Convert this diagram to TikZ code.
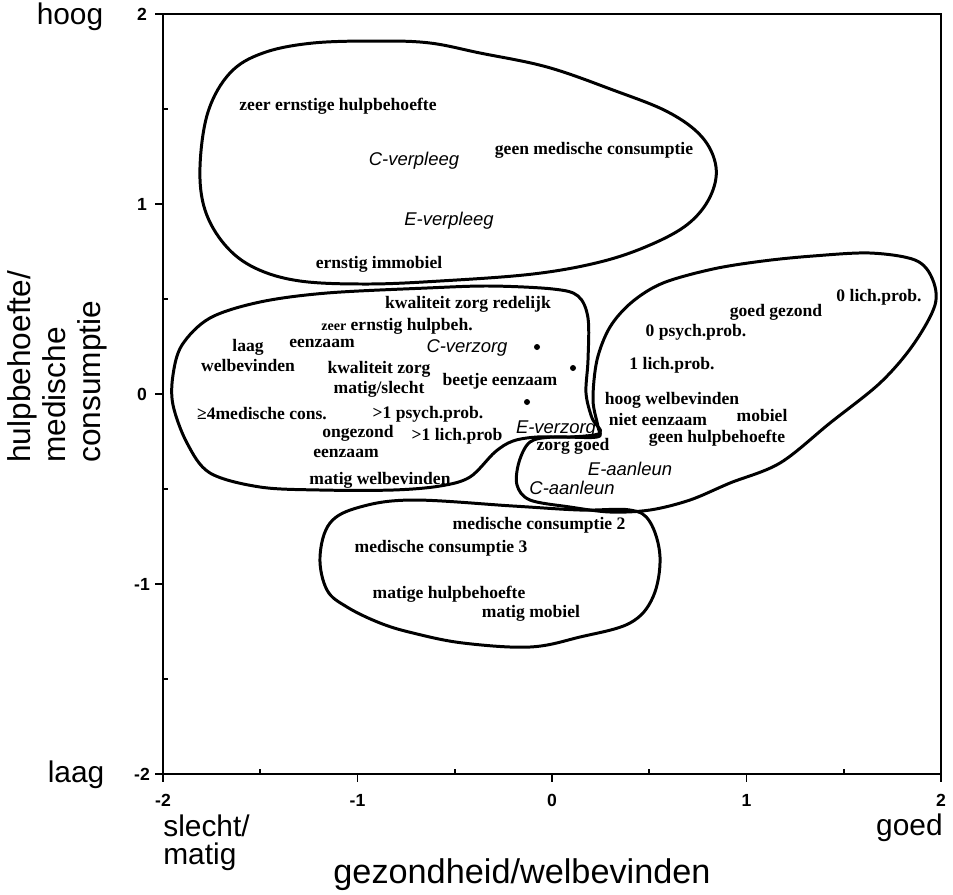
\documentclass[tikz,border=0pt]{standalone}
\usepackage{fontspec}
\setmainfont{Liberation Serif}
\setsansfont{Liberation Sans}
\usetikzlibrary{positioning}

\begin{document}
\begin{tikzpicture}[x=0.02cm, y=-0.02cm, node distance=1pt,
  blob/.style={line width=1.7pt, line join=round},
  axis/.style={line width=1.1pt},
  itemlbl/.style={font=\bfseries\fontsize{10}{11}\selectfont, inner sep=0pt},
  grplbl/.style={font=\sffamily\itshape\fontsize{10.5}{12}\selectfont, inner sep=0pt},
  pole/.style={font=\sffamily\fontsize{17}{20}\selectfont, inner sep=0pt},
  axtitle/.style={font=\sffamily\fontsize{18}{20}\selectfont, inner sep=0pt},
  num/.style={font=\sffamily\bfseries\fontsize{10}{12}\selectfont, inner sep=0pt},
  spot/.style={circle, fill, inner sep=0pt, minimum size=0.12cm}]
  \useasboundingbox (0,0) rectangle (953,894);

  \draw[axis] (163,14) rectangle (941,774);
  \foreach \v in {-2,...,2} {
    \draw[axis] (155,{394-190*\v}) -- (163,{394-190*\v});
    \draw[axis] ({552+194.5*\v},774) -- ({552+194.5*\v},782);
    \node[num] (yt\v) at (142,{394-190*\v}) {\v};
    \node[num] (xt\v) at ({552+194.5*\v},800) {\v};
  }
  \foreach \v in {-1.5,-0.5,0.5,1.5} {
    \draw[axis] (163,{394-190*\v}) -- (168,{394-190*\v});
    \draw[axis] ({552+194.5*\v},774) -- ({552+194.5*\v},769);
  }

  \node[pole] (hoog) at (70,17) {hoog};
  \node[pole] (laag) at (76,775) {laag};
  \node[pole, anchor=west] (slecht) at (163,826) {slecht/};
  \node[pole, anchor=west] (matig) at (163,857) {matig};
  \node[pole, anchor=east] (goed) at (943,828) {goed};
  \node[axtitle, font=\sffamily\fontsize{19.5}{22}\selectfont] (xlab) at (522,875) {gezondheid/welbevinden};
  \node[axtitle, rotate=90, anchor=west, align=left] (ylab) at (57,463)
    {hulpbehoefte/\\medische\\consumptie};

  \draw[blob] plot[smooth cycle, tension=0.6] coordinates {
    (200,167) (208,112) (230,73) (263,53) (313,43) (380,41) (430,43)
    (480,53) (547,67) (613,90) (668,112) (702,137) (716,167) (710,197)
    (688,224) (650,245) (600,262) (533,274) (440,281) (367,284)
    (300,281) (255,268) (225,245) (205,210)};
  \draw[blob] plot[smooth cycle, tension=0.55] coordinates {
    (182,345) (210,318) (260,302) (327,293) (427,288) (490,286)
    (553,289) (578,296) (588,318) (588,360) (586,393) (592,418)
    (600,433) (570,437) (537,437) (513,441) (495,452) (470,477)
    (440,486) (393,490) (320,490) (260,487) (210,473) (187,443)
    (173,405) (173,375)};
  \draw[blob] plot[smooth cycle, tension=0.55] coordinates {
    (663,283) (713,269) (763,261) (813,256) (870,253) (915,260)
    (932,278) (935,305) (913,345) (880,383) (830,423) (780,463)
    (730,483) (690,500) (650,510) (610,512) (570,507) (530,500)
    (517,485) (519,462) (530,442) (553,437) (597,437) (598,427)
    (593,400) (597,360) (610,327) (632,302)};
  \draw[blob] plot[smooth cycle, tension=0.6] coordinates {
    (330,523) (360,507) (413,500) (513,506) (580,510) (630,510)
    (650,522) (660,557) (653,597) (630,623) (580,637) (530,647)
    (463,643) (413,633) (380,623) (347,607) (327,590) (320,557)};

  \node[itemlbl] (zeh) at (338,106) {zeer ernstige hulpbehoefte};
  \node[grplbl] (cverpl) at (414,161) {C-verpleeg};
  \node[itemlbl] (gmc) at (594,150) {geen medische consumptie};
  \node[grplbl] (everpl) at (449,221) {E-verpleeg};
  \node[itemlbl] (eim) at (379,264) {ernstig immobiel};

  \node[itemlbl] (kzr) at (468,304) {kwaliteit zorg redelijk};
  \node[itemlbl] (zeh2) at (397,326) {{\fontsize{8}{9}\selectfont zeer} ernstig hulpbeh.};
  \node[itemlbl] (laagw) at (248,347) {laag};
  \node[itemlbl] (welb) [below=2pt of laagw] {welbevinden};
  \node[itemlbl] (eenz1) at (322,343) {eenzaam};
  \node[grplbl] (cverz) at (467,348) {C-verzorg};
  \node[itemlbl] (kzm) at (379,369) {kwaliteit zorg};
  \node[itemlbl] (matsl) [below=2pt of kzm] {matig/slecht};
  \node[itemlbl] (beetje) at (500,381) {beetje eenzaam};
  \node[itemlbl] (mc4) at (262,414) {≥4medische cons.};
  \node[itemlbl] (psy1) at (428,414) {>1 psych.prob.};
  \node[itemlbl] (ongez) at (358,433) {ongezond};
  \node[itemlbl] (lich1) at (457,436) {>1 lich.prob};
  \node[itemlbl] (eenz2) at (346,453) {eenzaam};
  \node[itemlbl] (matw) at (380,480) {matig welbevinden};
  \node[grplbl] (everz) at (556,429) {E-verzorg};
  \node[itemlbl] (zg) at (573,446) {zorg goed};
  \node[spot] (d1) at (537,347) {};
  \node[spot] (d2) at (573,368) {};
  \node[spot] (d3) at (527,402) {};

  \node[itemlbl] (lich0) at (879,297) {0 lich.prob.};
  \node[itemlbl] (gg) at (776,312) {goed gezond};
  \node[itemlbl] (psy0) at (696,332) {0 psych.prob.};
  \node[itemlbl] (lich1b) at (672,365) {1 lich.prob.};
  \node[itemlbl] (hw) at (672,400) {hoog welbevinden};
  \node[itemlbl] (ne) at (658,419) {niet eenzaam};
  \node[itemlbl] (mob) at (762,415) {mobiel};
  \node[itemlbl] (ghb) at (717,438) {geen hulpbehoefte};
  \node[grplbl] (eaanl) at (630,469) {E-aanleun};
  \node[grplbl] (caanl) at (572,488) {C-aanleun};

  \node[itemlbl] (mc2) at (539,525) {medische consumptie 2};
  \node[itemlbl] (mc3) at (441,548) {medische consumptie 3};
  \node[itemlbl] (mhb) at (449,594) {matige hulpbehoefte};
  \node[itemlbl] (mm) at (531,613) {matig mobiel};
\end{tikzpicture}
\end{document}
